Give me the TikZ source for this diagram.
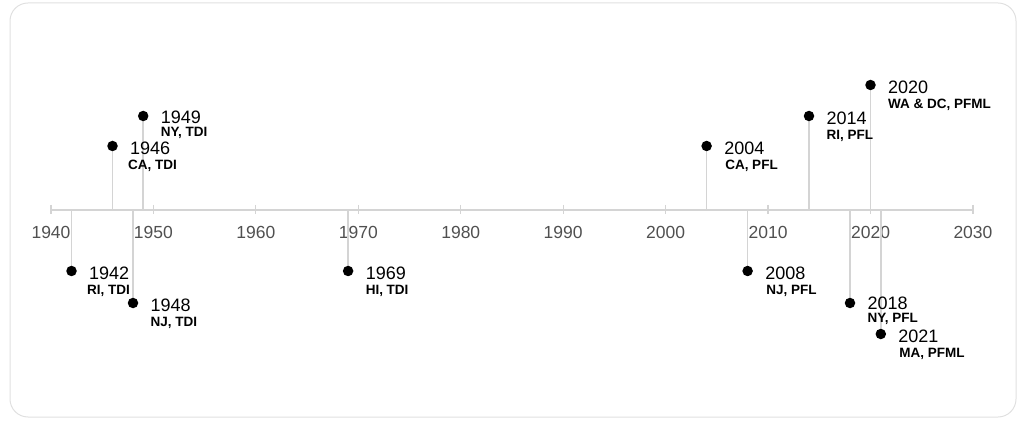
\documentclass[tikz,border=0pt]{standalone}
\usepackage{fontspec}
\setmainfont{Liberation Sans}
\usepackage{tikz}
\usetikzlibrary{positioning}
\usepackage{xcolor}
\definecolor{TLgrey}{RGB}{212,212,212}
\definecolor{TLtext}{RGB}{80,80,80}
\definecolor{TLframe}{RGB}{224,224,224}

\begin{document}
\begin{tikzpicture}[x=1pt, y=-1pt, node distance=12pt, every node/.style={inner sep=0pt},
  yr/.style={font=\fontsize{18}{20}\selectfont},
  st/.style={font=\fontsize{13.5}{15}\selectfont\bfseries},
  tick/.style={font=\fontsize{17.5}{19}\selectfont, text=TLtext},
  dot/.style={circle,fill=black,minimum size=10.5pt},
  stem/.style={TLgrey,line width=1.6pt}]
\useasboundingbox (0,0) rectangle (1024,427);
\draw[TLframe,line width=1pt,rounded corners=18pt] (10,3) rectangle (1016,417);
% axis with ticks
\draw[TLgrey,line width=1.4pt] (51,210) -- (973,210);
\foreach \yy in {0,...,9} {
  \draw[TLgrey,line width=1.2pt] (51+\yy*102.44,205) -- (51+\yy*102.44,214);
  \pgfmathtruncatemacro{\lab}{1940+10*\yy}
  \node[tick] (t\lab) at (51+\yy*102.44,232) {\lab};
}
% axis points of the events
\coordinate (a1942) at (71.5,210);
\coordinate (a1946) at (112.5,210);
\coordinate (a1948) at (133,210);
\coordinate (a1949) at (143.2,210);
\coordinate (a1969) at (348.1,210);
\coordinate (a2004) at (706.6,210);
\coordinate (a2008) at (747.6,210);
\coordinate (a2014) at (809,210);
\coordinate (a2018) at (850,210);
\coordinate (a2020) at (870.5,210);
\coordinate (a2021) at (880.8,210);
% stems first, dots on top
\draw[stem] (a1942) -- (71.5,271);
\draw[stem] (a1946) -- (112.5,146);
\draw[stem] (a1948) -- (133,303);
\draw[stem] (a1949) -- (143.2,116);
\draw[stem] (a1969) -- (348.1,271);
\draw[stem] (a2004) -- (706.6,146);
\draw[stem] (a2008) -- (747.6,271);
\draw[stem] (a2014) -- (809,116);
\draw[stem] (a2018) -- (850,303);
\draw[stem] (a2020) -- (870.5,85);
\draw[stem] (a2021) -- (880.8,334);
\node[dot] (d1942) at (71.5,271) {};
\node[dot] (d1946) at (112.5,146) {};
\node[dot] (d1948) at (133,303) {};
\node[dot] (d1949) at (143.2,116) {};
\node[dot] (d1969) at (348.1,271) {};
\node[dot] (d2004) at (706.6,146) {};
\node[dot] (d2008) at (747.6,271) {};
\node[dot] (d2014) at (809,116) {};
\node[dot] (d2018) at (850,303) {};
\node[dot] (d2020) at (870.5,85) {};
\node[dot] (d2021) at (880.8,334) {};
% labels
\node[yr,right=of d1942,yshift=-2pt] (l1942) {1942};
\node[st,below=5pt of l1942.south west,anchor=north west,xshift=-2pt] (s1942) {RI, TDI};
\node[yr,right=of d1946,yshift=-2pt] (l1946) {1946};
\node[st,below=5pt of l1946.south west,anchor=north west,xshift=-2pt] (s1946) {CA, TDI};
\node[yr,right=of d1948,yshift=-2pt] (l1948) {1948};
\node[st,below=5pt of l1948.south west,anchor=north west] (s1948) {NJ, TDI};
\node[yr,right=of d1949,yshift=-1pt] (l1949) {1949};
\node[st,below=3pt of l1949.south west,anchor=north west] (s1949) {NY, TDI};
\node[yr,right=of d1969,yshift=-2pt] (l1969) {1969};
\node[st,below=5pt of l1969.south west,anchor=north west] (s1969) {HI, TDI};
\node[yr,right=of d2004,yshift=-2pt] (l2004) {2004};
\node[st,below=5pt of l2004.south west,anchor=north west,xshift=1pt] (s2004) {CA, PFL};
\node[yr,right=of d2008,yshift=-2pt] (l2008) {2008};
\node[st,below=5pt of l2008.south west,anchor=north west,xshift=1pt] (s2008) {NJ, PFL};
\node[yr,right=of d2014,yshift=-2pt] (l2014) {2014};
\node[st,below=5pt of l2014.south west,anchor=north west] (s2014) {RI, PFL};
\node[yr,right=of d2018] (l2018) {2018};
\node[st,below=3pt of l2018.south west,anchor=north west] (s2018) {NY, PFL};
\node[yr,right=of d2020,yshift=-2pt] (l2020) {2020};
\node[st,below=5pt of l2020.south west,anchor=north west] (s2020) {WA \& DC, PFML};
\node[yr,right=of d2021,yshift=-2pt] (l2021) {2021};
\node[st,below=5pt of l2021.south west,anchor=north west,xshift=1pt] (s2021) {MA, PFML};
\end{tikzpicture}
\end{document}
